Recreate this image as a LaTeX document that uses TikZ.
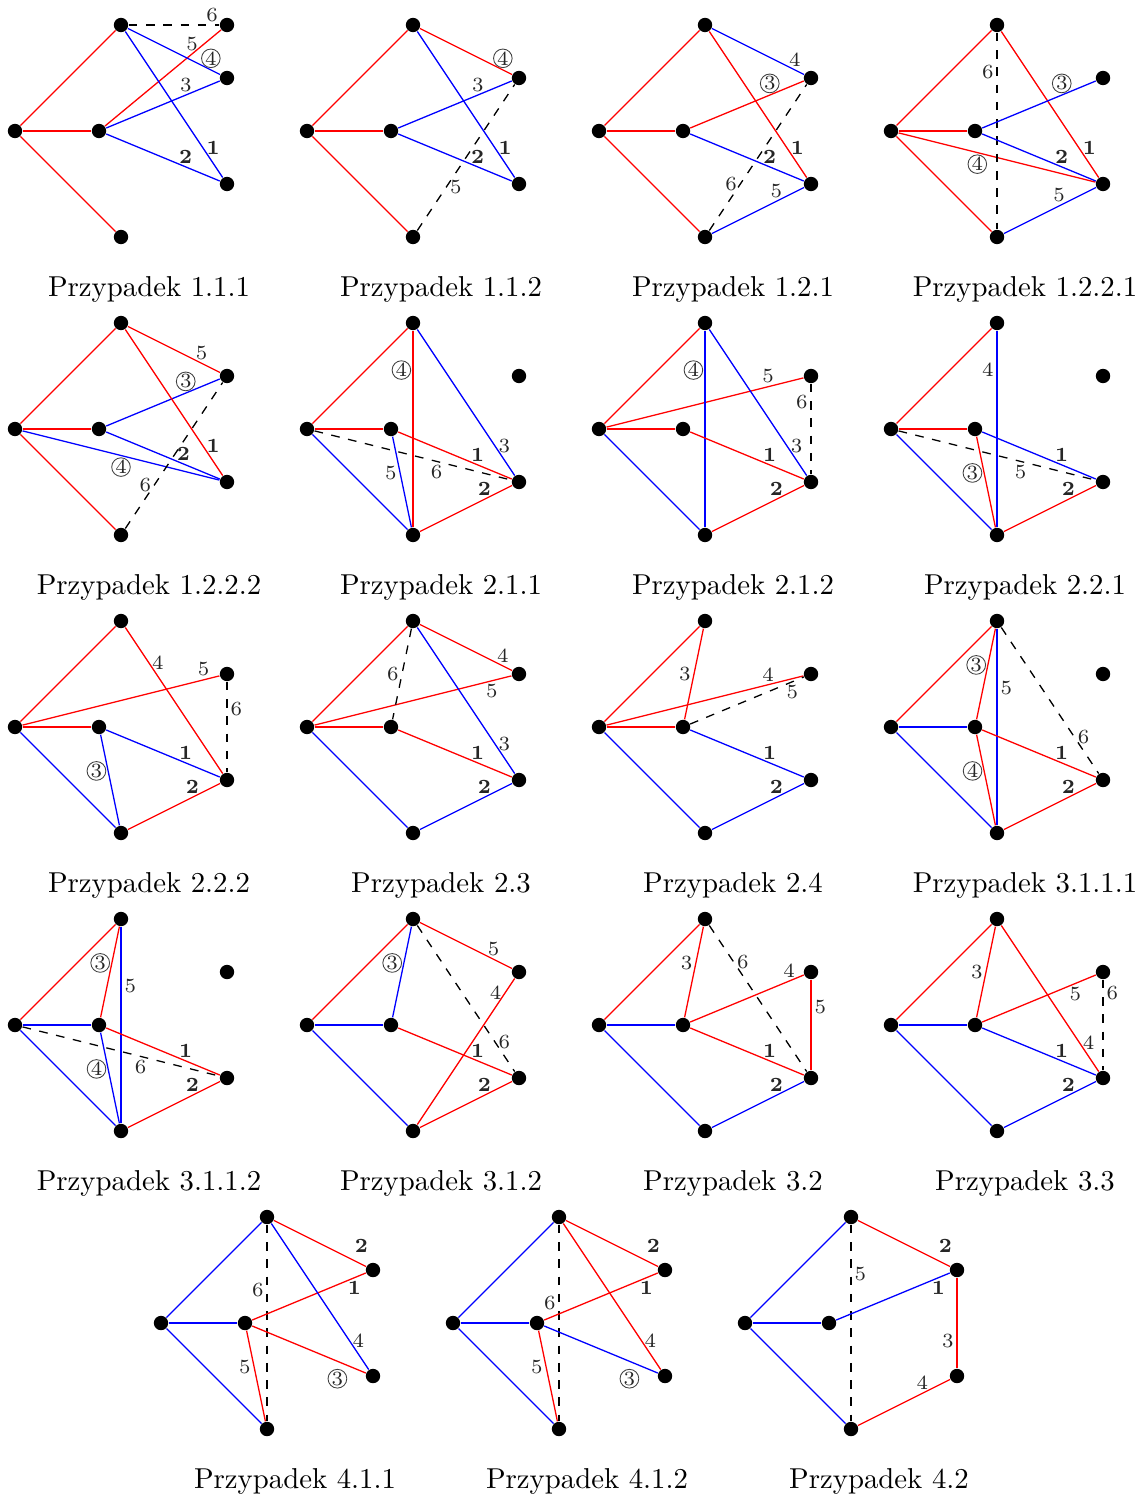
\documentclass[tikz,border=0pt]{standalone}
\usepackage{tikz}
\usetikzlibrary{positioning}

% six vertices of one case + its caption
\newcommand{\sixdots}[4]{%
  \node[dot] (#1L) at (#2,#3) {};
  \node[dot] (#1M) at (#2+84,#3) {};
  \node[dot] (#1T) at (#2+106,#3-106) {};
  \node[dot] (#1D) at (#2+106,#3+106) {};
  \node[dot] (#1R) at (#2+212,#3-53) {};
  \node[dot] (#1S) at (#2+212,#3+53) {};
  \node[captxt] (#1cap) at (#2+134,#3+158) {Przypadek #4};
}

\begin{document}
\begin{tikzpicture}[
    x=0.3475pt, y=-0.3475pt,
    dot/.style={circle, fill=black, inner sep=0pt, minimum size=5pt},
    captxt/.style={font=\normalsize},
    redge/.style={red, line width=0.45pt},
    bedge/.style={blue, line width=0.45pt},
    dedge/.style={black, dashed, line width=0.45pt},
    lab/.style={font=\scriptsize, inner sep=1pt, text=black!85},
    clab/.style={lab, draw=black!75, circle, inner sep=0.1pt, outer sep=0.8pt, line width=0.3pt}
]
\useasboundingbox (0,0) rectangle (1145,1499);

% 1.1.1
\sixdots{p111}{15}{131}{1.1.1}
\node[dot] (p111X) at (227,25) {};
\draw[redge] (p111L) -- (p111T);
\draw[redge] (p111L) -- (p111M);
\draw[redge] (p111L) -- (p111D);
\draw[dedge] (p111T) -- node[lab,pos=0.92,above]{6} (p111X);
\draw[redge] (p111M) -- node[lab,pos=0.75,above]{5} (p111X);
\draw[bedge] (p111T) -- node[clab,pos=0.9,above]{4} (p111R);
\draw[bedge] (p111M) -- node[lab,pos=0.7,above]{3} (p111R);
\draw[bedge] (p111T) -- node[lab,pos=0.8,right]{\textbf{1}} (p111S);
\draw[bedge] (p111M) -- node[lab,pos=0.7,above]{\textbf{2}} (p111S);

% 1.1.2
\sixdots{p112}{307}{131}{1.1.2}
\draw[redge] (p112L) -- (p112T);
\draw[redge] (p112L) -- (p112M);
\draw[redge] (p112L) -- (p112D);
\draw[redge] (p112T) -- node[clab,pos=0.9,above]{4} (p112R);
\draw[bedge] (p112M) -- node[lab,pos=0.7,above]{3} (p112R);
\draw[bedge] (p112M) -- node[lab,pos=0.7,above]{\textbf{2}} (p112S);
\draw[bedge] (p112T) -- node[lab,pos=0.8,right]{\textbf{1}} (p112S);
\draw[dedge] (p112D) -- node[lab,pos=0.3,right]{5} (p112R);

% 1.2.1
\sixdots{p121}{599}{131}{1.2.1}
\draw[redge] (p121L) -- (p121T);
\draw[redge] (p121L) -- (p121M);
\draw[redge] (p121L) -- (p121D);
\draw[bedge] (p121T) -- node[lab,pos=0.9,above]{4} (p121R);
\draw[redge] (p121M) -- node[clab,pos=0.7,above]{3} (p121R);
\draw[redge] (p121T) -- node[lab,pos=0.8,right]{\textbf{1}} (p121S);
\draw[bedge] (p121M) -- node[lab,pos=0.7,above]{\textbf{2}} (p121S);
\draw[bedge] (p121D) -- node[lab,pos=0.7,above]{5} (p121S);
\draw[dedge] (p121D) -- node[lab,pos=0.32,left]{6} (p121R);

% 1.2.2.1
\sixdots{p1221}{891}{131}{1.2.2.1}
\draw[redge] (p1221L) -- (p1221T);
\draw[redge] (p1221L) -- (p1221M);
\draw[redge] (p1221L) -- (p1221D);
\draw[redge] (p1221L) -- node[clab,pos=0.4,below]{4} (p1221S);
\draw[dedge] (p1221T) -- node[lab,pos=0.2,left]{6} (p1221D);
\draw[redge] (p1221T) -- node[lab,pos=0.8,right]{\textbf{1}} (p1221S);
\draw[bedge] (p1221M) -- node[clab,pos=0.7,above]{3} (p1221R);
\draw[bedge] (p1221M) -- node[lab,pos=0.7,above]{\textbf{2}} (p1221S);
\draw[bedge] (p1221D) -- node[lab,pos=0.6,above]{5} (p1221S);

% 1.2.2.2
\sixdots{p1222}{15}{429}{1.2.2.2}
\draw[redge] (p1222L) -- (p1222T);
\draw[redge] (p1222L) -- (p1222M);
\draw[redge] (p1222L) -- (p1222D);
\draw[redge] (p1222T) -- node[lab,pos=0.8,above]{5} (p1222R);
\draw[bedge] (p1222M) -- node[clab,pos=0.7,above]{3} (p1222R);
\draw[redge] (p1222T) -- node[lab,pos=0.8,right]{\textbf{1}} (p1222S);
\draw[bedge] (p1222M) -- node[lab,pos=0.68,above]{\textbf{2}} (p1222S);
\draw[bedge] (p1222L) -- node[clab,pos=0.5,below]{4} (p1222S);
\draw[dedge] (p1222D) -- node[lab,pos=0.3,left]{6} (p1222R);

% 2.1.1
\sixdots{p211}{307}{429}{2.1.1}
\draw[redge] (p211L) -- (p211T);
\draw[redge] (p211L) -- (p211M);
\draw[bedge] (p211L) -- (p211D);
\draw[redge] (p211T) -- node[clab,pos=0.2,left]{4} (p211D);
\draw[bedge] (p211T) -- node[lab,pos=0.8,right]{3} (p211S);
\draw[redge] (p211M) -- node[lab,pos=0.7,above]{\textbf{1}} (p211S);
\draw[redge] (p211D) -- node[lab,pos=0.7,above]{\textbf{2}} (p211S);
\draw[bedge] (p211M) -- node[lab,pos=0.4,left]{5} (p211D);
\draw[dedge] (p211L) -- node[lab,pos=0.62,below]{6} (p211S);

% 2.1.2
\sixdots{p212}{599}{429}{2.1.2}
\draw[redge] (p212L) -- (p212T);
\draw[redge] (p212L) -- (p212M);
\draw[bedge] (p212L) -- (p212D);
\draw[redge] (p212L) -- node[lab,pos=0.82,above]{5} (p212R);
\draw[dedge] (p212R) -- node[lab,pos=0.2,left]{6} (p212S);
\draw[bedge] (p212T) -- node[clab,pos=0.2,left]{4} (p212D);
\draw[bedge] (p212T) -- node[lab,pos=0.8,right]{3} (p212S);
\draw[redge] (p212M) -- node[lab,pos=0.7,above]{\textbf{1}} (p212S);
\draw[redge] (p212D) -- node[lab,pos=0.7,above]{\textbf{2}} (p212S);

% 2.2.1
\sixdots{p221}{891}{429}{2.2.1}
\draw[redge] (p221L) -- (p221T);
\draw[redge] (p221L) -- (p221M);
\draw[bedge] (p221L) -- (p221D);
\draw[bedge] (p221T) -- node[lab,pos=0.2,left]{4} (p221D);
\draw[bedge] (p221M) -- node[lab,pos=0.7,above]{\textbf{1}} (p221S);
\draw[dedge] (p221L) -- node[lab,pos=0.62,below]{5} (p221S);
\draw[redge] (p221M) -- node[clab,pos=0.4,left]{3} (p221D);
\draw[redge] (p221D) -- node[lab,pos=0.7,above]{\textbf{2}} (p221S);

% 2.2.2
\sixdots{p222}{15}{727}{2.2.2}
\draw[redge] (p222L) -- (p222T);
\draw[redge] (p222L) -- (p222M);
\draw[bedge] (p222L) -- (p222D);
\draw[redge] (p222L) -- node[lab,pos=0.92,above]{5} (p222R);
\draw[redge] (p222T) -- node[lab,pos=0.24,right]{4} (p222S);
\draw[dedge] (p222R) -- node[lab,pos=0.3,right]{6} (p222S);
\draw[bedge] (p222M) -- node[lab,pos=0.7,above]{\textbf{1}} (p222S);
\draw[bedge] (p222M) -- node[clab,pos=0.4,left]{3} (p222D);
\draw[redge] (p222D) -- node[lab,pos=0.7,above]{\textbf{2}} (p222S);

% 2.3
\sixdots{p23}{307}{727}{2.3}
\draw[redge] (p23L) -- (p23T);
\draw[redge] (p23L) -- (p23M);
\draw[bedge] (p23L) -- (p23D);
\draw[redge] (p23L) -- node[lab,pos=0.9,below]{5} (p23R);
\draw[redge] (p23T) -- node[lab,pos=0.9,above]{4} (p23R);
\draw[dedge] (p23T) -- node[lab,pos=0.5,left]{6} (p23M);
\draw[bedge] (p23T) -- node[lab,pos=0.8,right]{3} (p23S);
\draw[redge] (p23M) -- node[lab,pos=0.7,above]{\textbf{1}} (p23S);
\draw[bedge] (p23D) -- node[lab,pos=0.7,above]{\textbf{2}} (p23S);

% 2.4
\sixdots{p24}{599}{727}{2.4}
\draw[redge] (p24L) -- (p24T);
\draw[redge] (p24L) -- (p24M);
\draw[bedge] (p24L) -- (p24D);
\draw[redge] (p24T) -- node[lab,pos=0.5,left]{3} (p24M);
\draw[redge] (p24L) -- node[lab,pos=0.82,above]{4} (p24R);
\draw[dedge] (p24M) -- node[lab,pos=0.9,below]{5} (p24R);
\draw[bedge] (p24M) -- node[lab,pos=0.7,above]{\textbf{1}} (p24S);
\draw[bedge] (p24D) -- node[lab,pos=0.7,above]{\textbf{2}} (p24S);

% 3.1.1.1
\sixdots{p3111}{891}{727}{3.1.1.1}
\draw[redge] (p3111L) -- (p3111T);
\draw[bedge] (p3111L) -- (p3111M);
\draw[bedge] (p3111L) -- (p3111D);
\draw[redge] (p3111T) -- node[clab,pos=0.4,left]{3} (p3111M);
\draw[bedge] (p3111T) -- node[lab,pos=0.3,right]{5} (p3111D);
\draw[redge] (p3111M) -- node[clab,pos=0.4,left]{4} (p3111D);
\draw[redge] (p3111M) -- node[lab,pos=0.7,above]{\textbf{1}} (p3111S);
\draw[redge] (p3111D) -- node[lab,pos=0.7,above]{\textbf{2}} (p3111S);
\draw[dedge] (p3111T) -- node[lab,pos=0.75,right]{6} (p3111S);

% 3.1.1.2
\sixdots{p3112}{15}{1025}{3.1.1.2}
\draw[redge] (p3112L) -- (p3112T);
\draw[bedge] (p3112L) -- (p3112M);
\draw[bedge] (p3112L) -- (p3112D);
\draw[redge] (p3112T) -- node[clab,pos=0.4,left]{3} (p3112M);
\draw[bedge] (p3112T) -- node[lab,pos=0.3,right]{5} (p3112D);
\draw[bedge] (p3112M) -- node[clab,pos=0.4,left]{4} (p3112D);
\draw[redge] (p3112M) -- node[lab,pos=0.7,above]{\textbf{1}} (p3112S);
\draw[dedge] (p3112L) -- node[lab,pos=0.6,below]{6} (p3112S);
\draw[redge] (p3112D) -- node[lab,pos=0.7,above]{\textbf{2}} (p3112S);

% 3.1.2
\sixdots{p312}{307}{1025}{3.1.2}
\draw[redge] (p312L) -- (p312T);
\draw[bedge] (p312L) -- (p312M);
\draw[bedge] (p312L) -- (p312D);
\draw[bedge] (p312T) -- node[clab,pos=0.4,left]{3} (p312M);
\draw[redge] (p312T) -- node[lab,pos=0.8,above]{5} (p312R);
\draw[redge] (p312D) -- node[lab,pos=0.9,left]{4} (p312R);
\draw[dedge] (p312T) -- node[lab,pos=0.8,right]{6} (p312S);
\draw[redge] (p312M) -- node[lab,pos=0.7,above]{\textbf{1}} (p312S);
\draw[redge] (p312D) -- node[lab,pos=0.7,above]{\textbf{2}} (p312S);

% 3.2
\sixdots{p32}{599}{1025}{3.2}
\draw[redge] (p32L) -- (p32T);
\draw[bedge] (p32L) -- (p32M);
\draw[bedge] (p32L) -- (p32D);
\draw[redge] (p32T) -- node[lab,pos=0.4,left]{3} (p32M);
\draw[dedge] (p32T) -- node[lab,pos=0.25,right]{6} (p32S);
\draw[redge] (p32M) -- node[lab,pos=0.87,above]{4} (p32R);
\draw[redge] (p32R) -- node[lab,pos=0.3,right]{5} (p32S);
\draw[redge] (p32M) -- node[lab,pos=0.7,above]{\textbf{1}} (p32S);
\draw[bedge] (p32D) -- node[lab,pos=0.7,above]{\textbf{2}} (p32S);

% 3.3
\sixdots{p33}{891}{1025}{3.3}
\draw[redge] (p33L) -- (p33T);
\draw[bedge] (p33L) -- (p33M);
\draw[bedge] (p33L) -- (p33D);
\draw[redge] (p33T) -- node[lab,pos=0.5,left]{3} (p33M);
\draw[redge] (p33T) -- node[lab,pos=0.8,right]{4} (p33S);
\draw[redge] (p33M) -- node[lab,pos=0.82,below]{5} (p33R);
\draw[dedge] (p33R) -- node[lab,pos=0.15,right]{6} (p33S);
\draw[bedge] (p33M) -- node[lab,pos=0.7,above]{\textbf{1}} (p33S);
\draw[bedge] (p33D) -- node[lab,pos=0.7,above]{\textbf{2}} (p33S);

% 4.1.1
\sixdots{p411}{161}{1323}{4.1.1}
\draw[bedge] (p411L) -- (p411T);
\draw[bedge] (p411L) -- (p411M);
\draw[bedge] (p411L) -- (p411D);
\draw[dedge] (p411T) -- node[lab,pos=0.33,left]{6} (p411D);
\draw[redge] (p411T) -- node[lab,pos=0.95,above=3pt]{\textbf{2}} (p411R);
\draw[redge] (p411M) -- node[lab,pos=0.9,below]{\textbf{1}} (p411R);
\draw[bedge] (p411T) -- node[lab,pos=0.8,right]{4} (p411S);
\draw[redge] (p411M) -- node[clab,pos=0.75,below=2pt]{3} (p411S);
\draw[redge] (p411M) -- node[lab,pos=0.4,left]{5} (p411D);

% 4.1.2
\sixdots{p412}{453}{1323}{4.1.2}
\draw[bedge] (p412L) -- (p412T);
\draw[bedge] (p412L) -- (p412M);
\draw[bedge] (p412L) -- (p412D);
\draw[dedge] (p412T) -- node[lab,pos=0.4,left]{6} (p412D);
\draw[redge] (p412T) -- node[lab,pos=0.95,above=3pt]{\textbf{2}} (p412R);
\draw[redge] (p412M) -- node[lab,pos=0.9,below]{\textbf{1}} (p412R);
\draw[redge] (p412T) -- node[lab,pos=0.8,right]{4} (p412S);
\draw[bedge] (p412M) -- node[clab,pos=0.75,below=2pt]{3} (p412S);
\draw[redge] (p412M) -- node[lab,pos=0.4,left]{5} (p412D);

% 4.2
\sixdots{p42}{745}{1323}{4.2}
\draw[bedge] (p42L) -- (p42T);
\draw[bedge] (p42L) -- (p42M);
\draw[bedge] (p42L) -- (p42D);
\draw[dedge] (p42T) -- node[lab,pos=0.25,right]{5} (p42D);
\draw[redge] (p42T) -- node[lab,pos=0.95,above=3pt]{\textbf{2}} (p42R);
\draw[bedge] (p42M) -- node[lab,pos=0.9,below]{\textbf{1}} (p42R);
\draw[redge] (p42R) -- node[lab,pos=0.7,left]{3} (p42S);
\draw[redge] (p42D) -- node[lab,pos=0.7,above]{4} (p42S);
\end{tikzpicture}
\end{document}
